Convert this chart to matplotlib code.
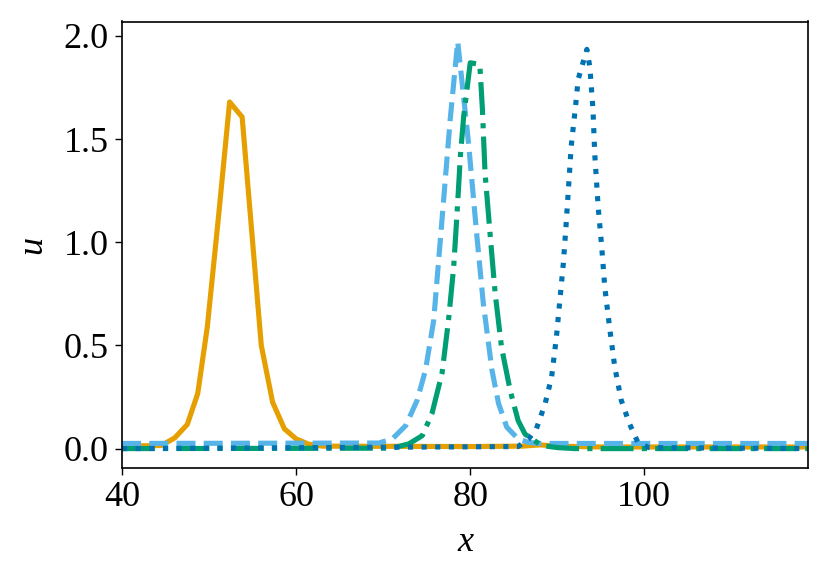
import matplotlib
matplotlib.use("Agg")
import matplotlib.pyplot as plt

# ---- data ----
x_orange = [40, 44.5, 46.06, 47.5, 48.7, 49.8, 51.1, 52.36, 53.8, 56.0, 57.3, 58.65,
            60.0, 61.4, 63, 80, 86, 88, 90, 95, 120]
y_orange = [0.012, 0.015, 0.052, 0.117, 0.267, 0.59, 1.13, 1.68, 1.607, 0.50, 0.225, 0.096,
            0.047, 0.022, 0.012, 0.01, 0.012, 0.018, 0.012, 0.008, 0.008]

x_lblue = [40, 69.5, 71.06, 72.6, 73.9, 74.86, 75.8, 76.76, 77.7, 78.56, 78.86, 79.8,
           80.77, 81.5, 82.5, 83.25, 84.2, 85.5, 86.7, 88, 120]
y_lblue = [0.025, 0.027, 0.047, 0.112, 0.234, 0.38, 0.62, 1.11, 1.596, 1.972, 1.855, 1.483,
           1.028, 0.705, 0.38, 0.219, 0.104, 0.047, 0.03, 0.025, 0.025]

x_green = [40, 71, 72.95, 74.5, 75.6, 76.76, 77.5, 78.1, 78.5, 78.87, 79.25, 80.0, 81.1,
           81.4, 81.7, 82.3, 82.87, 83.6, 84.6, 85.5, 86.3, 88.2, 90, 92, 120]
y_green = [0.0, 0.002, 0.023, 0.063, 0.169, 0.365, 0.62, 0.88, 1.15, 1.418, 1.61, 1.87, 1.862,
           1.645, 1.337, 1.03, 0.75, 0.49, 0.28, 0.136, 0.07, 0.015, 0.005, 0.0, 0.0]

x_dblue = [40, 85.5, 86.7, 87.6, 88.6, 89.35, 89.9, 90.3, 90.7, 91.0, 91.3, 91.6, 92.1,
           92.4, 93.4, 93.74, 94.1, 94.3, 94.7, 95.1, 95.45, 96.0, 96.6, 97.35, 98.3,
           99.26, 100.5, 120]
y_dblue = [0.0, 0.01, 0.047, 0.096, 0.217, 0.347, 0.54, 0.72, 0.9, 1.077, 1.27, 1.466, 1.66,
           1.79, 1.935, 1.85, 1.645, 1.43, 1.17, 0.98, 0.785, 0.59, 0.396, 0.234, 0.12,
           0.03, 0.005, 0.0]

x_ticks = [40, 60, 80, 100]
y_ticks = [0.0, 0.5, 1.0, 1.5, 2.0]

# ---- style ----
plt.rcParams['font.family'] = ['Liberation Serif', 'DejaVu Serif']
plt.rcParams['font.size'] = 26

fig = plt.figure(figsize=(8.3, 5.8), dpi=100)
ax = fig.add_axes([122 / 830, 1 - 468 / 580, (808 - 122) / 830, (468 - 21.5) / 580])

lw = 3.7
ax.plot(x_orange, y_orange, color='#E69F00', lw=lw, linestyle='-')
ax.plot(x_lblue, y_lblue, color='#56B4E9', lw=lw, linestyle='--')
ax.plot(x_green, y_green, color='#009E73', lw=lw, linestyle='-.')
ax.plot(x_dblue, y_dblue, color='#0072B2', lw=lw, linestyle=':')

ax.set_xlim(40, 118.8)
ax.set_ylim(-0.094, 2.07)
ax.set_xticks(x_ticks)
ax.set_xticklabels([str(t) for t in x_ticks])
ax.set_yticks(y_ticks)
ax.set_yticklabels([f"{t:.1f}" for t in y_ticks])

ax.tick_params(direction='out', length=4.7, width=1.0, pad=5, labelsize=26)
for s in ax.spines.values():
    s.set_linewidth(1.2)

ax.set_xlabel('x', fontstyle='italic', fontsize=26, labelpad=8)
ax.set_ylabel('u', fontstyle='italic', fontsize=26, labelpad=10)

fig.savefig('out.png', dpi=100)
